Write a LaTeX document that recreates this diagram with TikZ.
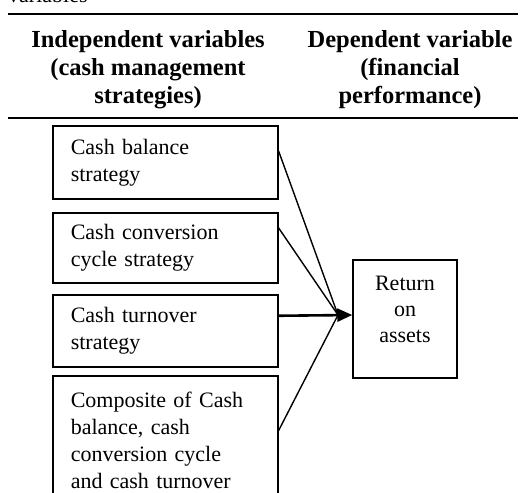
\documentclass[tikz,border=0pt]{standalone}
\usepackage{fontspec}
\setmainfont{Liberation Serif}
\usetikzlibrary{arrows.meta}

\tikzset{
  head/.style={align=center,inner sep=0pt,anchor=north,
    font=\fontsize{24.5}{28}\selectfont\bfseries},
  var/.style={draw=black,line width=1.5pt,anchor=north west,align=left,
    text width=189pt,inner xsep=18pt,inner ysep=0pt,
    font=\fontsize{22}{27}\selectfont},
  rule/.style={line width=1.5pt},
  wire/.style={line width=1.4pt},
  arrow/.style={line width=2.6pt,-{Triangle[length=15pt,width=13pt]}}
}

\begin{document}
\begin{tikzpicture}[x=1pt,y=-1pt]
    \useasboundingbox (0,0) rectangle (524,492);
    \clip (0,0) rectangle (524,492);

    \node[anchor=base west,inner sep=0pt,font=\fontsize{22}{27}\selectfont] (T) at (8,3) {variables};
    \draw[rule] (8,14) -- (518,14);
    \node[head] (H1) at (148,30.5) {Independent variables\\(cash management\\strategies)};
    \node[head] (H2) at (410,30.5) {Dependent variable\\(financial\\performance)};
    \draw[rule] (8,118) -- (518,118);

    \node[var,minimum height=73pt] (A) at (52,125) {Cash balance\\strategy};
    \node[var,minimum height=70pt] (B) at (52,212) {Cash conversion\\cycle strategy};
    \node[var,minimum height=72pt] (C) at (52,294) {Cash turnover\\strategy};
    \node[var,minimum height=130pt] (D) at (52,375) {Composite of Cash\\balance, cash\\conversion cycle\\and cash turnover};
    \node[draw=black,line width=1.5pt,align=center,minimum width=104pt,minimum height=118pt,
      text depth=19pt,inner sep=0pt,font=\fontsize{22}{26}\selectfont] (E) at (405,319) {Return\\on\\assets};

    \coordinate (hub) at (338,315);
    %\path [->] (A) edge (E);
    \path[wire] ([yshift=11.5pt]A.east) edge (hub);
    \path[wire] ([yshift=20pt]B.east) edge (hub);
    \path[wire] ([yshift=10pt]D.east) edge (hub);
    \draw[arrow] ([yshift=15pt]C.east) -- (E.west |- hub);
\end{tikzpicture}
\end{document}
